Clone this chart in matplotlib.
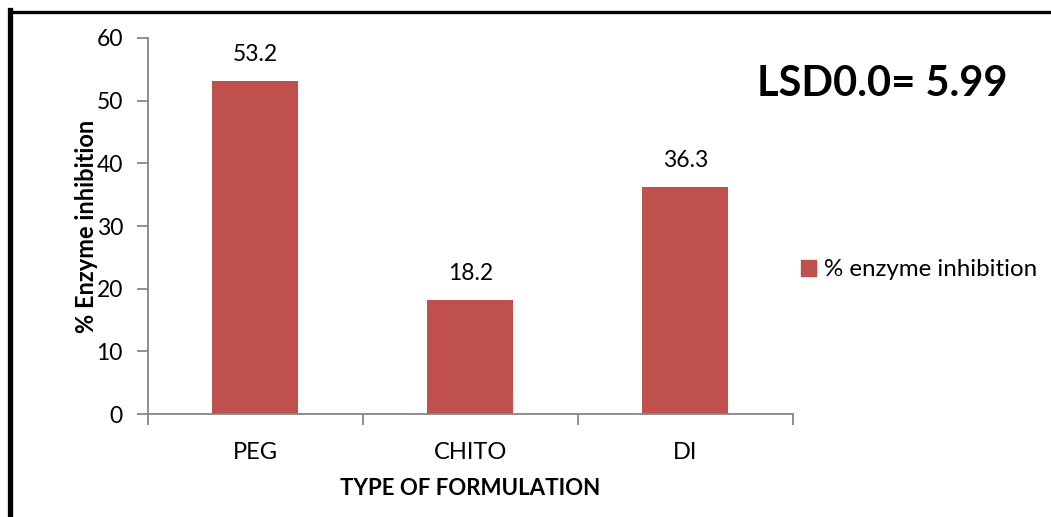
import matplotlib
matplotlib.use("Agg")
import matplotlib.pyplot as plt
from matplotlib.lines import Line2D

# Enzyme inhibition by formulation type
categories = ["PEG", "CHITO", "DI"]
inhibition = [53.2, 18.2, 36.3]
y_ticks = [0, 10, 20, 30, 40, 50, 60]
series_name = "% enzyme inhibition"
lsd_text = "LSD0.0= 5.99"

plt.rcParams['font.family'] = ['Lato', 'DejaVu Sans']

bar_color = "#C0504D"
axis_color = "#868686"

fig = plt.figure(figsize=(10.51, 5.17), dpi=100)
ax = fig.add_axes([0.1408, 0.1992, 0.6137, 0.7273])

x = list(range(len(categories)))
ax.bar(x, inhibition, width=0.4, color=bar_color, zorder=2)

for xi, v in zip(x, inhibition):
    ax.text(xi, v + 2.5, f"{v:.1f}", ha="center", va="bottom", fontsize=16.5, color="black")

ax.set_xlim(-0.5, len(categories) - 0.5)
ax.set_ylim(0, 60)
ax.set_yticks(y_ticks)
ax.set_xticks(x)
ax.set_xticklabels(categories)
ax.set_xticks([i - 0.5 for i in range(len(categories) + 1)], minor=True)
ax.tick_params(axis="x", which="major", length=0, pad=20, labelsize=17)
ax.tick_params(axis="x", which="minor", length=8, width=1.3, color=axis_color, direction="out")
ax.tick_params(axis="y", length=8, width=1.3, color=axis_color, pad=10, labelsize=16.5)

for side in ("top", "right"):
    ax.spines[side].set_visible(False)
for side in ("left", "bottom"):
    ax.spines[side].set_color(axis_color)
    ax.spines[side].set_linewidth(1.3)

ax.set_xlabel("TYPE OF FORMULATION", fontsize=16, fontweight="bold", labelpad=11)
ax.set_ylabel("% Enzyme inhibition", fontsize=17, fontweight="bold", labelpad=-1)

# Legend
handle = plt.Rectangle((0, 0), 1, 1, color=bar_color)
fig.legend([handle], [series_name], loc="center left", bbox_to_anchor=(0.7415, 0.478),
           frameon=False, fontsize=17.4, handlelength=0.6, handleheight=0.6,
           handletextpad=0.35)

# Statistic annotation
fig.text(0.7203, 0.8375, lsd_text, fontsize=30, fontweight="bold", ha="left", va="center")

# Frame lines around the figure
fig.add_artist(Line2D([9.5 / 1051, 9.5 / 1051], [0, 1 - 10 / 517], transform=fig.transFigure,
                      color="black", linewidth=3.8, solid_capstyle="projecting"))
fig.add_artist(Line2D([9.5 / 1051, 1.0], [1 - 11.5 / 517, 1 - 11.5 / 517], transform=fig.transFigure,
                      color="black", linewidth=2.4, solid_capstyle="projecting"))

fig.savefig("out.png", dpi=100, facecolor="white")
